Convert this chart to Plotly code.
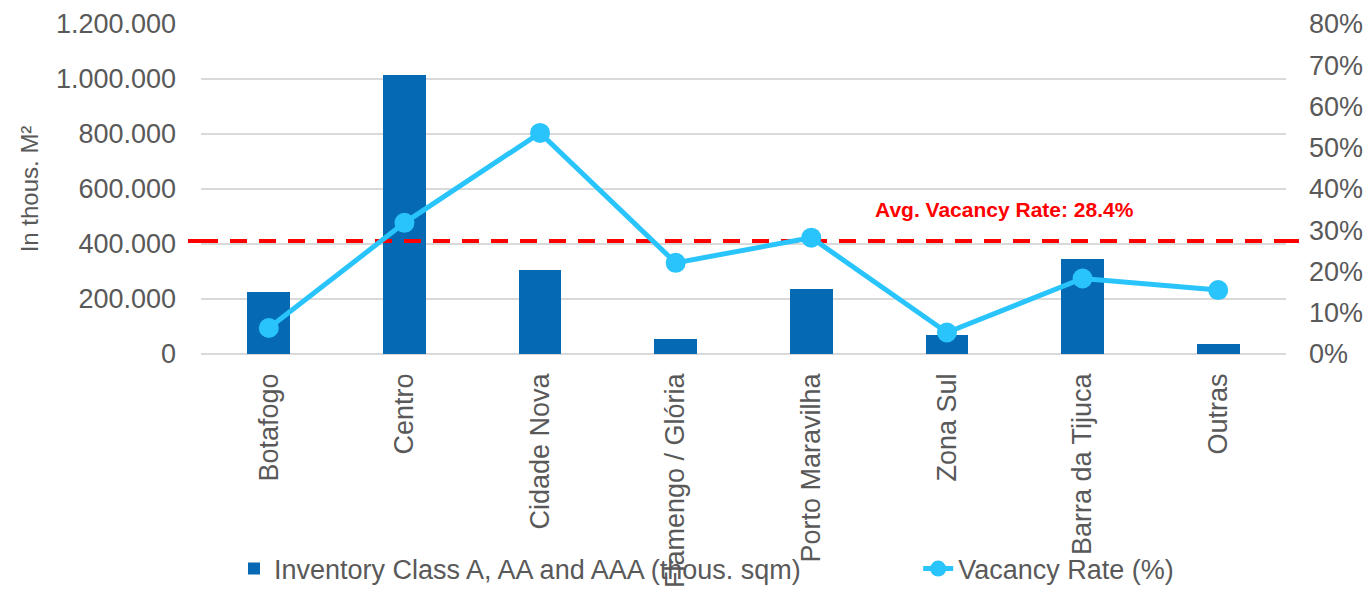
import plotly.graph_objects as go

categories = ["Botafogo", "Centro", "Cidade Nova", "Flamengo / Glória",
              "Porto Maravilha", "Zona Sul", "Barra da Tijuca", "Outras"]
inventory = [225000, 1014000, 305000, 55000, 236000, 69000, 345000, 36000]
vacancy = [6.3, 31.8, 53.6, 22.1, 28.2, 5.2, 18.3, 15.5]
avg_vacancy_drawn = 27.4
avg_label = "Avg. Vacancy Rate: 28.4%"
left_ticks = [0, 200000, 400000, 600000, 800000, 1000000, 1200000]
right_ticks = [0, 10, 20, 30, 40, 50, 60, 70, 80]
right_ticktext = [f"{v}%" for v in right_ticks]

FONT = "Arial, Liberation Sans, sans-serif"
GREY = "#595959"
BAR = "#0569B3"
LINE = "#29C4FB"
RED = "#FF0000"

xpos = list(range(len(categories)))
n = len(categories)

fig = go.Figure()
fig.add_trace(go.Bar(
    x=xpos, y=inventory, name="Inventory Class A, AA and AAA (thous. sqm)",
    marker=dict(color=BAR, line=dict(width=0)), yaxis="y", width=0.315,
    legend="legend",
))
fig.add_trace(go.Scatter(
    x=[-0.5, n - 0.5], y=[avg_vacancy_drawn, avg_vacancy_drawn], yaxis="y2",
    mode="lines", line=dict(color=RED, width=4, dash="17px,12px"),
    showlegend=False, hoverinfo="skip",
))
fig.add_trace(go.Scatter(
    x=xpos, y=vacancy, name="Vacancy Rate (%)", yaxis="y2",
    mode="lines+markers", line=dict(color=LINE, width=5),
    marker=dict(color=LINE, size=20), legend="legend2",
))

# short extensions of the average line beyond the plot edges
for x0, x1 in [(-0.012, 0.0), (1.0, 1.012)]:
    fig.add_shape(type="line", xref="paper", yref="y2", x0=x0, x1=x1,
                  y0=avg_vacancy_drawn, y1=avg_vacancy_drawn,
                  line=dict(color=RED, width=4))

fig.add_annotation(text="<b>" + avg_label + "</b>", xref="paper", yref="paper",
                   x=0.741, y=0.439, xanchor="center", yanchor="middle",
                   showarrow=False,
                   font=dict(family=FONT, size=21, color=RED))

legend_font = dict(family=FONT, size=27, color=GREY)
fig.update_layout(
    width=1370, height=590,
    margin=dict(l=201, r=84, t=24, b=236, autoexpand=False),
    paper_bgcolor="white", plot_bgcolor="white",
    separators=",.",
    font=dict(family=FONT, color=GREY, size=27),
    showlegend=True,
    legend=dict(orientation="h", x=0.0304, y=-0.6515, xanchor="left", yanchor="middle",
                bgcolor="rgba(0,0,0,0)", font=legend_font),
    legend2=dict(orientation="h", x=0.661, y=-0.6515, xanchor="left", yanchor="middle",
                 bgcolor="rgba(0,0,0,0)", font=legend_font),
    xaxis=dict(tickmode="array", tickvals=xpos, ticktext=categories,
               range=[-0.5, n - 0.5], tickangle=-90, showgrid=False,
               showline=False, zeroline=False, ticks="", ticklabelstandoff=13,
               automargin=False,
               tickfont=dict(family=FONT, size=27, color=GREY)),
    yaxis=dict(range=[0, 1200000], tickvals=left_ticks, tickformat=",d",
               showgrid=True, gridcolor="#D9D9D9", gridwidth=2,
               zeroline=True, zerolinecolor="#D9D9D9", zerolinewidth=2,
               showline=False, ticks="", ticklabelstandoff=24, automargin=False,
               tickfont=dict(family=FONT, size=27, color=GREY),
               title=dict(text="In thous. M²", font=dict(family=FONT, size=24, color=GREY),
                          standoff=10)),
    yaxis2=dict(range=[0, 80], tickvals=right_ticks, ticktext=right_ticktext,
                overlaying="y", side="right", showgrid=False, zeroline=False,
                showline=False, ticks="", ticklabelstandoff=22, automargin=False,
                tickfont=dict(family=FONT, size=27, color=GREY)),
    bargap=0,
)

fig.write_html("out.html", config={"displayModeBar": False},
               post_script="document.body.style.margin='0';")
